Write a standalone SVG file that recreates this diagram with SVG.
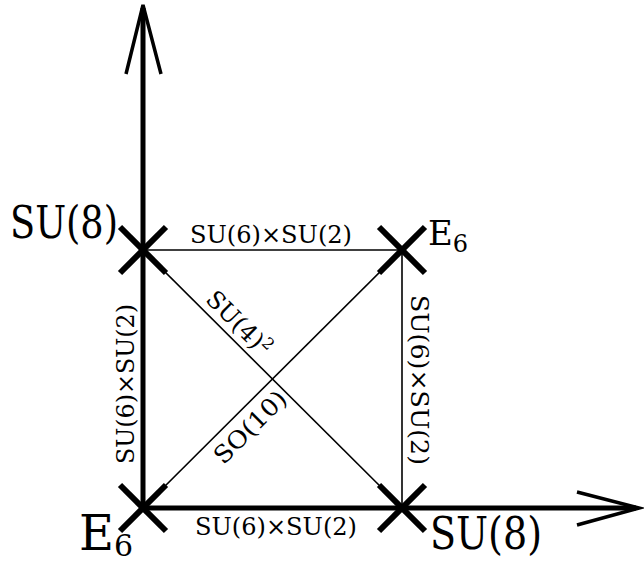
<svg xmlns="http://www.w3.org/2000/svg" width="644" height="562" viewBox="0 0 644 562">
<style>
.axis{stroke:#000;stroke-width:5;fill:none}
.head{stroke:#000;stroke-width:3.5;fill:none;stroke-linejoin:miter}
.edge{stroke:#000;stroke-width:1.6;fill:none}
.cross{stroke:#000;stroke-width:6;stroke-linecap:butt}
.lab{font-size:24px}
.t{font-family:"DejaVu Serif","Liberation Serif",serif;fill:#000}
</style>
<defs>
<g id="x"><line class="cross" x1="-23" y1="-23" x2="23" y2="23"/><line class="cross" x1="-23" y1="23" x2="23" y2="-23"/></g>
</defs>
<g id="connectors">
<line class="axis" x1="143" y1="8" x2="143" y2="510"/>
<polyline class="head" points="126,74 143,5 161,74"/>
<line class="axis" x1="141" y1="508" x2="636" y2="508"/>
<polyline class="head" points="577,492 639,508 577,525"/>
<line class="edge" x1="143" y1="250" x2="402" y2="250"/>
<line class="edge" x1="402" y1="250" x2="402" y2="508"/>
<line class="edge" x1="143" y1="250" x2="402" y2="508"/>
<line class="edge" x1="143" y1="508" x2="402" y2="250"/>
<text class="t lab" x="271" y="243" text-anchor="middle" textLength="162" lengthAdjust="spacingAndGlyphs">SU(6)×SU(2)</text>
<text class="t lab" x="276" y="535" text-anchor="middle" textLength="162" lengthAdjust="spacingAndGlyphs">SU(6)×SU(2)</text>
<text class="t lab" transform="translate(134,384) rotate(-90)" text-anchor="middle" textLength="160" lengthAdjust="spacingAndGlyphs">SU(6)×SU(2)</text>
<text class="t lab" transform="translate(411,380) rotate(90)" text-anchor="middle" textLength="170" lengthAdjust="spacingAndGlyphs">SU(6)×SU(2)</text>
<text class="t lab" transform="translate(233,329) rotate(45)" text-anchor="middle">SU(4)<tspan font-size="16" dy="-9">2</tspan></text>
<text class="t lab" transform="translate(256,433) rotate(-45)" text-anchor="middle" textLength="92" lengthAdjust="spacingAndGlyphs">SO(10)</text>
</g>
<g id="n-su8-top">
<use href="#x" x="143" y="250"/>
<text class="t" x="10" y="238" font-size="44" textLength="108" lengthAdjust="spacingAndGlyphs">SU(8)</text>
</g>
<g id="n-e6-top">
<use href="#x" x="402" y="250"/>
<text class="t" x="428" y="245" font-size="34">E<tspan font-size="24" dy="7">6</tspan></text>
</g>
<g id="n-e6-bottom">
<use href="#x" x="143" y="508"/>
<text class="t" x="79" y="550" font-size="48">E<tspan font-size="30" dy="6">6</tspan></text>
</g>
<g id="n-su8-bottom">
<use href="#x" x="402" y="508"/>
<text class="t" x="430" y="549" font-size="44" textLength="112" lengthAdjust="spacingAndGlyphs">SU(8)</text>
</g>
</svg>
